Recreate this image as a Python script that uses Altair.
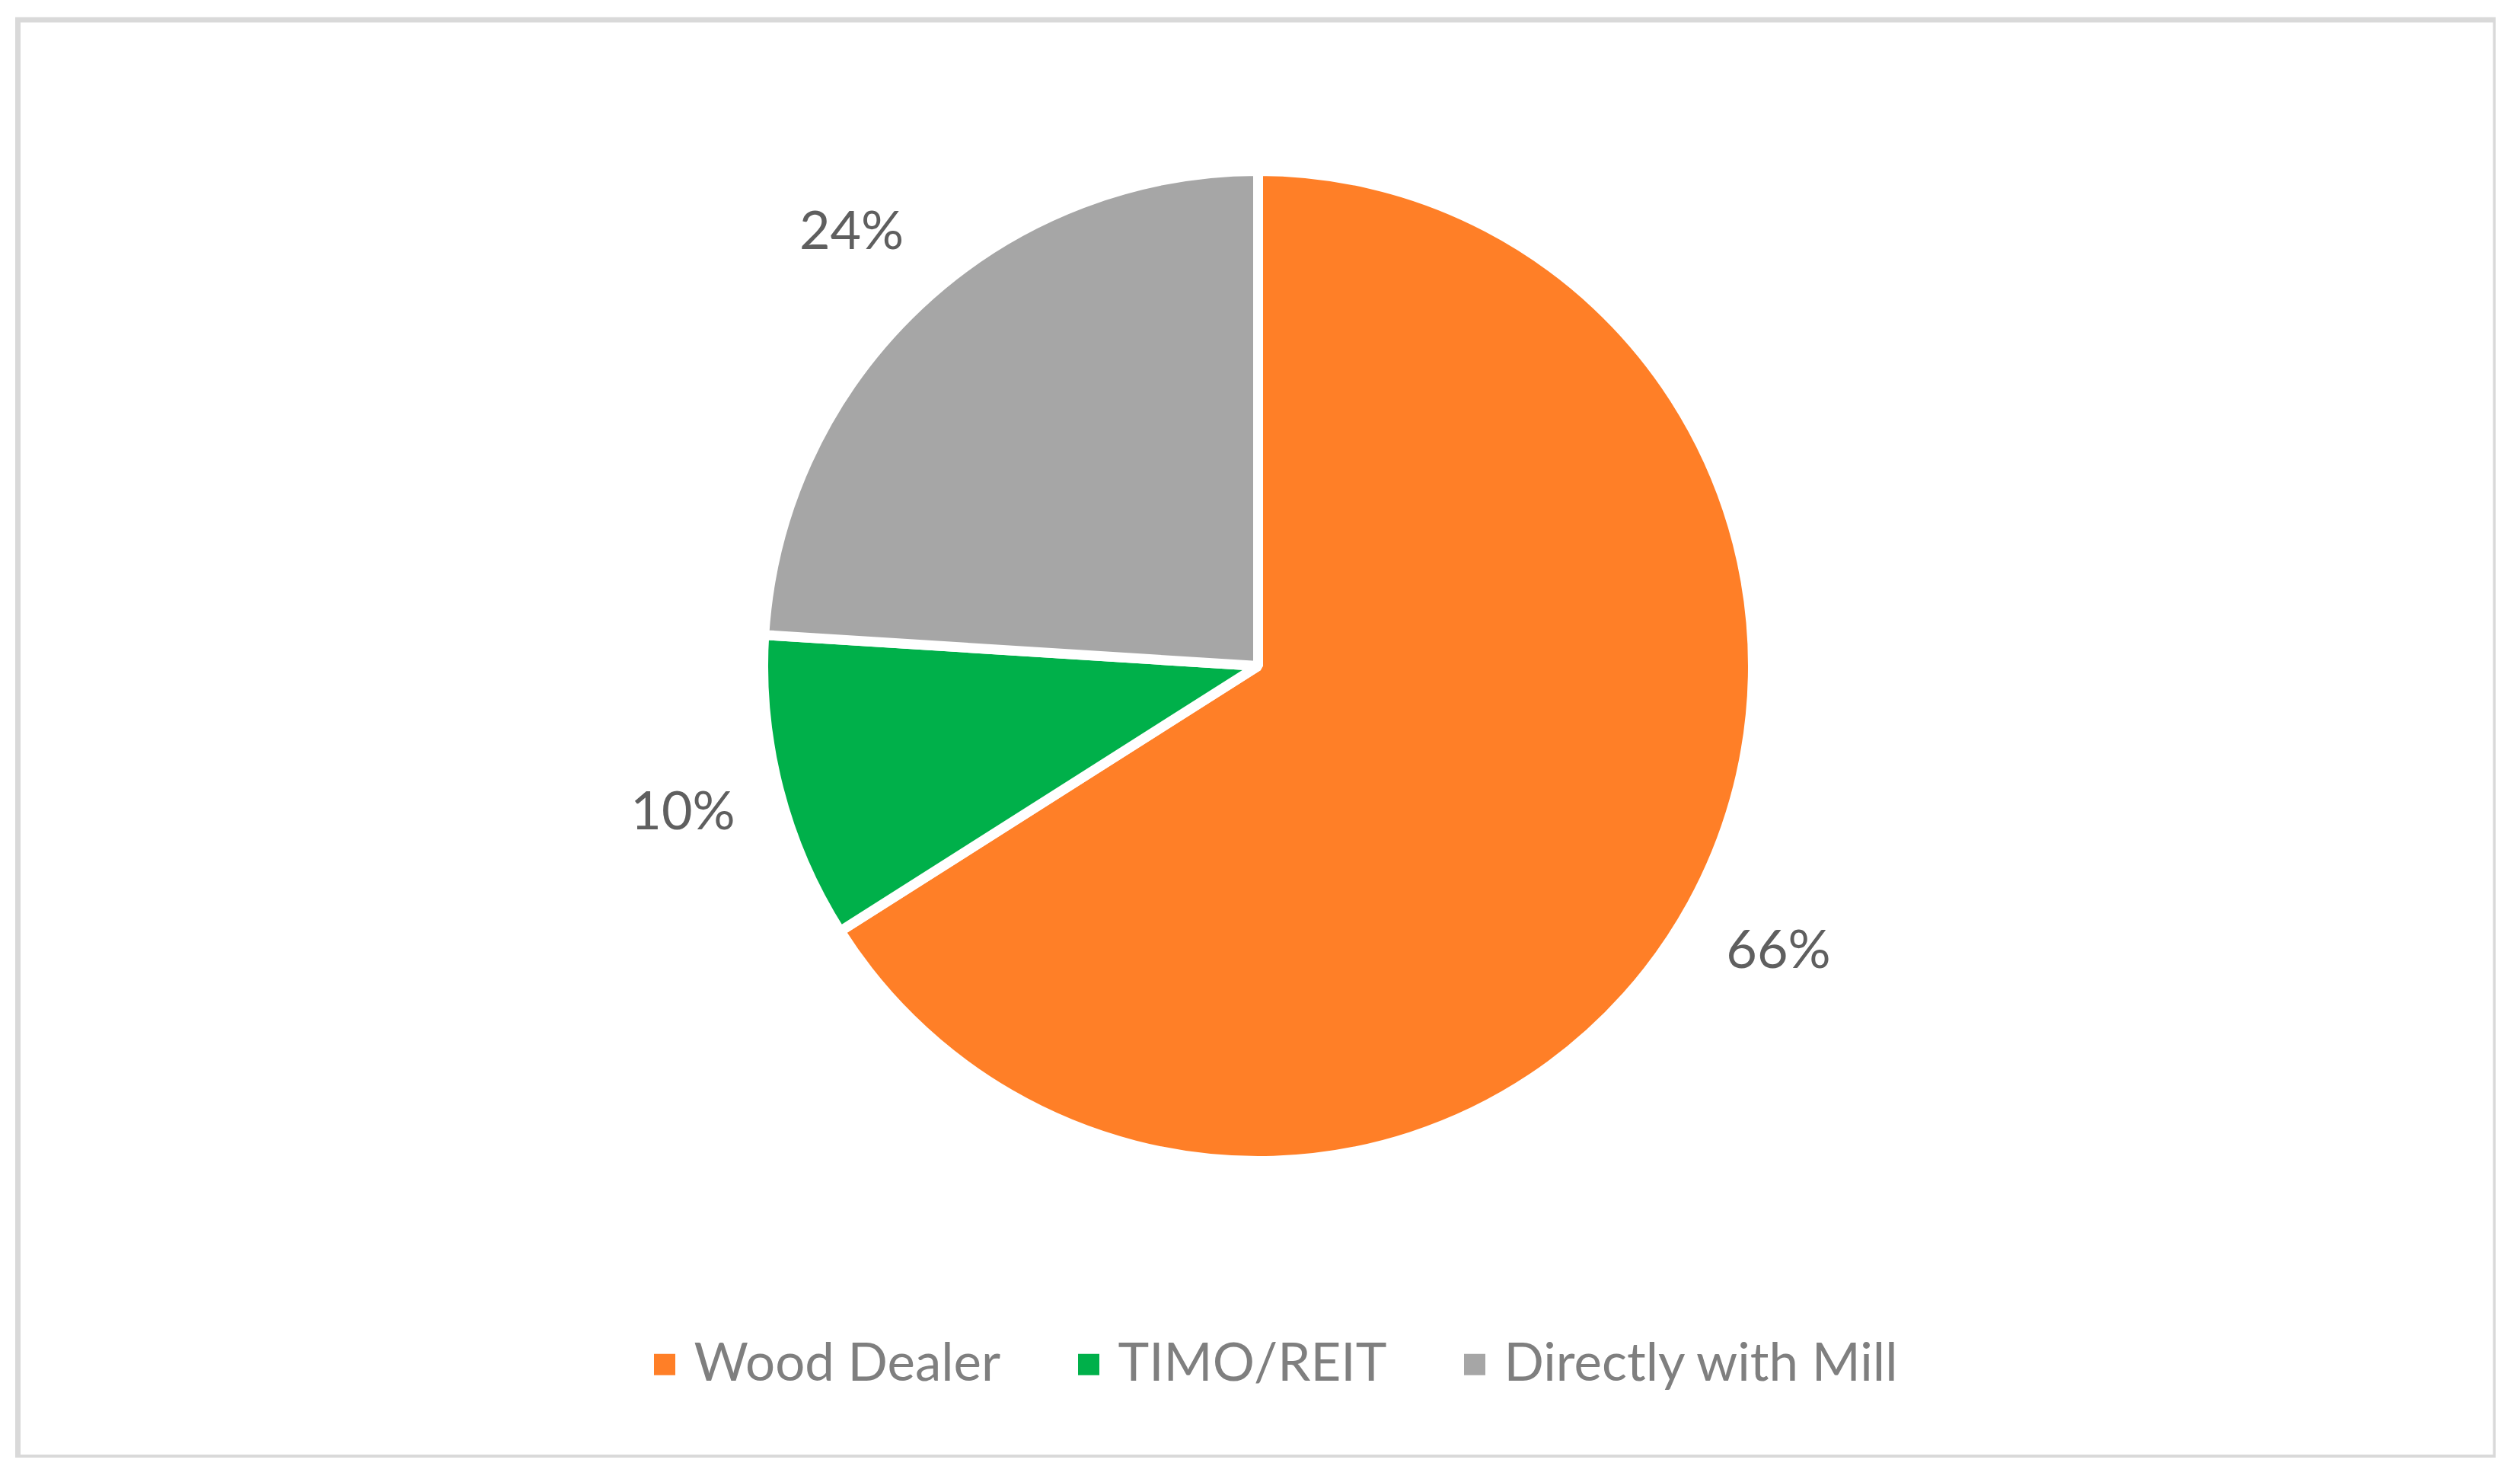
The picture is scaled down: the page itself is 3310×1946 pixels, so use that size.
import altair as alt
import pandas as pd

categories = ["Wood Dealer", "TIMO/REIT", "Directly with Mill"]
shares = [66, 10, 24]
labels = ["66%", "10%", "24%"]
colors = ["#FF7F27", "#00B04A", "#A6A6A6"]

df = pd.DataFrame({
    "category": categories,
    "share": shares,
    "label": labels,
    "idx": list(range(len(categories))),
})

W, H = 3254.5, 1887.5
CX, CY = 1629, 848.5
R = 650
FONT = "Lato"

base = alt.Chart(df).encode(
    theta=alt.Theta("share:Q", stack=True),
    order=alt.Order("idx:Q"),
)

pie = base.mark_arc(radius=R, stroke="white", strokeWidth=13, strokeJoin="bevel").encode(
    x=alt.value(CX),
    y=alt.value(CY),
    color=alt.Color(
        "category:N",
        scale=alt.Scale(domain=categories, range=colors),
        legend=alt.Legend(
            orient="none",
            legendX=815,
            legendY=1731,
            direction="horizontal",
            title=None,
            symbolType="square",
            symbolSize=784,
            symbolStrokeWidth=0,
            labelFontSize=69,
            labelFont=FONT,
            labelColor="#7F7F7F",
            labelOffset=4,
            columnPadding=81,
            labelLimit=0,
            padding=0,
        ),
    ),
)

text = base.mark_text(radius=780, fontSize=70, font=FONT, color="#5F5F5F",
                      align="center", baseline="middle").encode(
    x=alt.value(CX),
    y=alt.value(CY),
    text="label:N",
)

chart = (pie + text).properties(
    width=W,
    height=H,
    padding={"left": 15.5, "top": 18, "right": 0, "bottom": 0},
    autosize=alt.AutoSizeParams(type="none"),
    background="white",
).configure_view(stroke="#D9D9D9", strokeWidth=7)

chart.save("out.html", embed_options={"renderer": "svg", "actions": False})
